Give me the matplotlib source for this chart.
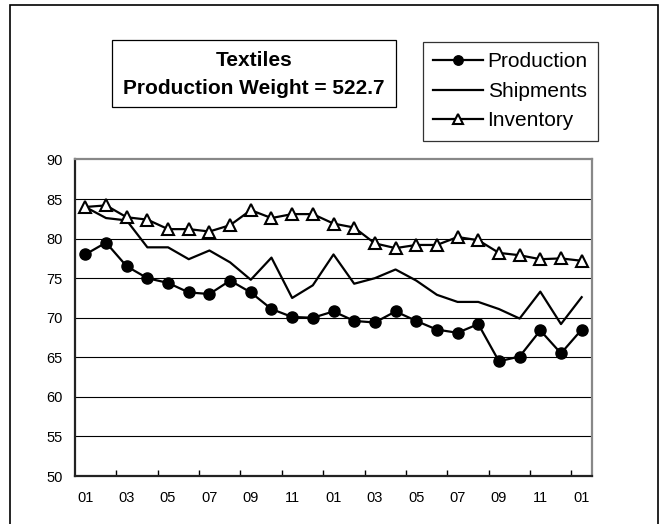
"""
Textiles: production, shipments and inventory index
"""
import matplotlib
matplotlib.use("Agg")
import matplotlib.pyplot as plt
from matplotlib.patches import Rectangle

# months: Jan of year 1 through Jan of year 3
months = ["01", "02", "03", "04", "05", "06", "07", "08", "09", "10", "11", "12",
          "01", "02", "03", "04", "05", "06", "07", "08", "09", "10", "11", "12",
          "01"]

production = [78.0, 79.5, 76.5, 75.0, 74.4, 73.2, 73.0, 74.7, 73.2, 71.1, 70.1, 70.0,
              70.8, 69.6, 69.4, 70.8, 69.6, 68.5, 68.1, 69.2, 64.5, 65.1, 68.4, 65.5,
              68.5]
shipments = [84.0, 82.6, 82.3, 78.9, 78.9, 77.4, 78.5, 77.0, 74.8, 77.6, 72.5, 74.1,
             78.0, 74.3, 75.0, 76.1, 74.7, 72.9, 72.0, 72.0, 71.1, 69.9, 73.3, 69.2,
             72.6]
inventory = [84.0, 84.2, 82.7, 82.4, 81.2, 81.2, 80.9, 81.7, 83.6, 82.6, 83.1, 83.1,
             81.9, 81.4, 79.4, 78.8, 79.2, 79.2, 80.2, 79.8, 78.2, 77.9, 77.4, 77.5,
             77.2]

TITLE = "Textiles\nProduction Weight = 522.7"
W, H = 659, 524
FONT = "Liberation Sans"


def px(x0, y0, x1, y1):
    """pixel box (top-left origin) -> figure fraction (left, bottom, w, h)"""
    return (x0 / W, 1 - y1 / H, (x1 - x0) / W, (y1 - y0) / H)


def main():
    plt.rcParams["font.family"] = FONT
    fig = plt.figure(figsize=(W / 100, H / 100), dpi=100)

    # outer frame (bottom edge runs off the picture)
    left, bottom, width, height = px(10, 5, 657.5, 530)
    fig.patches.append(Rectangle((left, bottom), width, height, transform=fig.transFigure,
                                 fill=False, edgecolor="black", linewidth=1.2))

    ax = fig.add_axes(px(75, 159.5, 592, 476))
    xs = list(range(len(months)))

    for y in range(55, 90, 5):
        ax.axhline(y, color="black", linewidth=0.8, zorder=1)

    ax.plot(xs, production, color="black", linewidth=1.6, marker="o",
            markersize=8, label="Production", zorder=3)
    ax.plot(xs, shipments, color="black", linewidth=1.6, label="Shipments", zorder=3)
    ax.plot(xs, inventory, color="black", linewidth=1.6, marker="^",
            markersize=8, markerfacecolor="white", markeredgecolor="black",
            markeredgewidth=1.5, label="Inventory", zorder=3)

    ax.set_xlim(-0.5, len(months) - 0.5)
    ax.set_ylim(50, 90)
    ax.set_yticks(range(50, 91, 5))
    ax.set_xticks(xs[::2])
    ax.set_xticklabels(months[::2])
    ax.set_xticks([x + 0.5 for x in xs[1::2]], minor=True)
    ax.tick_params(axis="x", which="major", length=0, pad=11, labelsize=10.5)
    ax.tick_params(axis="x", which="minor", direction="in", length=4, width=1)
    ax.tick_params(axis="y", length=0, pad=9, labelsize=10.5)

    for side in ("left", "bottom"):
        ax.spines[side].set_color("#222222")
        ax.spines[side].set_linewidth(1.6)
    for side in ("top", "right"):
        ax.spines[side].set_color("#888888")
        ax.spines[side].set_linewidth(1.6)

    # title box
    left, bottom, width, height = px(112, 40, 396, 107)
    fig.patches.append(Rectangle((left, bottom), width, height, transform=fig.transFigure,
                                 fill=False, edgecolor="black", linewidth=0.9))
    fig.text(left + width / 2, bottom + height / 2 - 1.5 / H, TITLE, ha="center",
             va="center", fontsize=15, fontweight="bold", linespacing=1.6)

    # legend box
    left, bottom, width, height = px(423, 42, 607, 143.5)
    leg = fig.legend(loc="upper left", bbox_to_anchor=(left, bottom + height),
                     fontsize=15, frameon=True, fancybox=False, edgecolor="black",
                     handlelength=2.4, handletextpad=0.2, labelspacing=0.5,
                     borderpad=0.5, borderaxespad=0, markerscale=0.85)
    leg.get_frame().set_linewidth(0.9)

    fig.savefig("out.png", dpi=100)
    plt.close(fig)


if __name__ == "__main__":
    main()
